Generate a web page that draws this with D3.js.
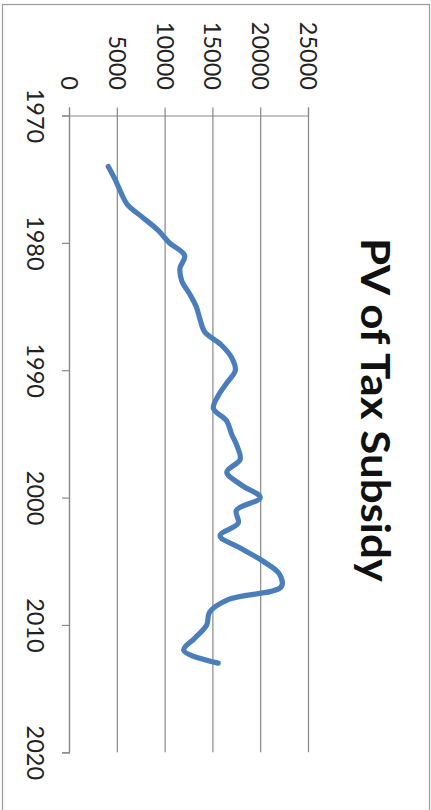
<!DOCTYPE html>
<html>
<head>
<meta charset="utf-8">
<script src="https://cdn.jsdelivr.net/npm/d3@7"></script>
<style>
  html, body { margin: 0; padding: 0; background: #fff; }
  svg { display: block; }
</style>
</head>
<body>
<svg id="chart" width="431" height="810"></svg>
<script>
const title = "PV of Tax Subsidy";
const years = [1974,1975,1976,1977,1978,1979,1980,1981,1982,1983,1984,1985,1986,1987,1988,1989,1990,1991,1992,1993,1994,1995,1996,1997,1998,1999,2000,2001,2002,2003,2004,2005,2006,2007,2008,2009,2010,2011,2012,2013];
const pvValues = [4000,4700,5300,6000,7600,9200,10400,12000,11500,11700,12500,13200,13600,14100,15800,16900,17300,16400,15500,15000,16400,16900,17500,17800,16400,17900,19900,17400,17600,15700,17900,20200,21900,22100,16600,14600,14300,13100,11900,15500];
const yearTicks = [1970,1980,1990,2000,2010,2020];
const valueTicks = [0,5000,10000,15000,20000,25000];

const svg = d3.select("#chart");
// Chart drawn in landscape space (810 x 431) then rotated 90deg clockwise
const g = svg.append("g").attr("transform", "translate(431,0) rotate(90)");

const font = "Lato, 'Open Sans', sans-serif";
const gridColor = "#878787";

// frame
g.append("rect")
  .attr("x", 4.5).attr("y", 1.5)
  .attr("width", 820).attr("height", 427)
  .attr("fill", "none").attr("stroke", "#9a9a9a").attr("stroke-width", 1.2);

const x = d3.scaleLinear().domain([1970, 2020]).range([115.5, 752.3]);
const y = d3.scaleLinear().domain([0, 25000]).range([361, 122]);

// value axis with gridlines
const yAxis = g.append("g")
  .attr("transform", `translate(${x(1970)},0)`)
  .call(d3.axisLeft(y).tickValues(valueTicks).tickSizeOuter(0).tickSize(8).tickFormat(d3.format("d")));
yAxis.select(".domain").attr("stroke", gridColor).attr("stroke-width", 1.2);
yAxis.selectAll(".tick line")
  .attr("x1", -8).attr("x2", x(2020) - x(1970))
  .attr("stroke", gridColor).attr("stroke-width", 1.2);
yAxis.selectAll(".tick text")
  .attr("x", -25.5).attr("dy", "0.36em")
  .attr("fill", "#222")
  .style("font-family", font).style("font-size", "23.5px");

// year axis
const xAxis = g.append("g")
  .attr("transform", `translate(0,${y(0)})`)
  .call(d3.axisBottom(x).tickValues(yearTicks).tickSizeOuter(0).tickSize(8).tickFormat(d3.format("d")));
xAxis.select(".domain").attr("stroke", gridColor).attr("stroke-width", 1.2);
xAxis.selectAll(".tick line").attr("stroke", gridColor).attr("stroke-width", 1.2);
xAxis.selectAll(".tick text")
  .attr("y", 43).attr("dy", 0)
  .attr("fill", "#222")
  .style("font-family", font).style("font-size", "23.5px");

// line
const data = years.map((yr, i) => ({ yr, v: pvValues[i] }));
const line = d3.line()
  .x(d => x(d.yr))
  .y(d => y(d.v))
  .curve(d3.curveCatmullRom.alpha(0.5));
g.append("path")
  .datum(data)
  .attr("d", line)
  .attr("fill", "none")
  .attr("stroke", "#4a7ebb")
  .attr("stroke-width", 5.2)
  .attr("stroke-linecap", "round")
  .attr("stroke-linejoin", "round");

// title
g.append("text")
  .attr("x", 410).attr("y", 70.3)
  .attr("text-anchor", "middle")
  .attr("textLength", 344).attr("lengthAdjust", "spacingAndGlyphs")
  .attr("fill", "#111")
  .style("font-family", font).style("font-weight", "bold").style("font-size", "41px")
  .text(title);
</script>
</body>
</html>
